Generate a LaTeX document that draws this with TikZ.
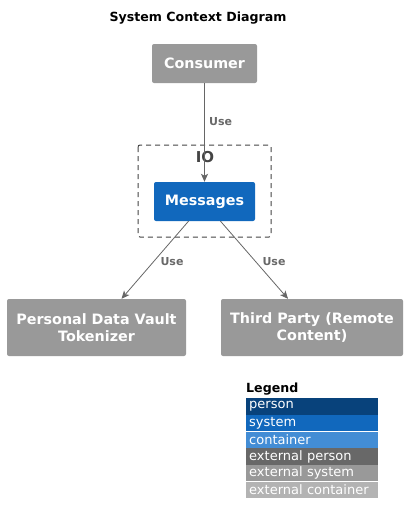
\documentclass[tikz,border=0pt]{standalone}
\usepackage{fontspec}
\setmainfont{DejaVu Sans}
\usetikzlibrary{arrows.meta}
\definecolor{extsys}{HTML}{999999}
\definecolor{sysblue}{HTML}{1168BD}
\definecolor{persblue}{HTML}{08427B}
\definecolor{contblue}{HTML}{438DD5}
\definecolor{extpers}{HTML}{686868}
\definecolor{extcont}{HTML}{B3B3B3}
\definecolor{linegray}{HTML}{666666}
\definecolor{bordergray}{HTML}{444444}
\tikzset{
  elem/.style={rounded corners=2pt, text=white, font=\bfseries\fontsize{14.3}{17}\selectfont, align=center, inner sep=0pt},
  rel/.style={draw=linegray, line width=0.8pt, -{Stealth[length=8pt,width=7pt,inset=2pt]}},
  rellabel/.style={text=extpers, font=\bfseries\fontsize{11}{13}\selectfont},
  legrow/.style={minimum width=132pt, minimum height=16.3pt, inner sep=0pt, anchor=north west, text=white, font=\fontsize{13}{15}\selectfont, text width=130pt, align=left}
}
\begin{document}
\begin{tikzpicture}[x=1pt,y=-1pt]
\useasboundingbox (0,0) rectangle (409,522);
\node[font=\bfseries\fontsize{12.6}{15}\selectfont] (title) at (198,18) {System Context Diagram};
% boundary
\draw[draw=bordergray, line width=1pt, dash pattern=on 5pt off 4pt, rounded corners=2pt] (138,145) rectangle (271,237);
\node[font=\bfseries\fontsize{15}{18}\selectfont, text=bordergray] (io) at (205,157) {IO};
\node[elem, fill=extsys, minimum width=105pt, minimum height=39pt] (consumer) at (204.5,63.5) {Consumer};
\node[elem, fill=sysblue, minimum width=101pt, minimum height=39pt] (messages) at (204.5,201.5) {Messages};
\node[elem, fill=extsys, minimum width=179pt, minimum height=57pt] (pdv) at (96.5,327.5) {Personal Data Vault\\Tokenizer};
\node[elem, fill=extsys, minimum width=182pt, minimum height=57pt] (tp) at (312,327.5) {Third Party (Remote\\Content)};
\draw[rel] (consumer.south) -- (messages.north) node[rellabel, pos=0.39, right=1pt] {Use};
\coordinate (m1) at ([xshift=-16pt]messages.south);
\coordinate (m2) at ([xshift=16pt]messages.south);
\coordinate (p1) at ([xshift=25pt]pdv.north);
\coordinate (t1) at ([xshift=-24pt]tp.north);
\draw[rel] (m1) -- (p1);
\draw[rel] (m2) -- (t1);
\node[rellabel] (u2) at (172,262) {Use};
\node[rellabel] (u3) at (274,262) {Use};
% legend
\node[anchor=south west, inner sep=0pt, font=\bfseries\fontsize{12.6}{15}\selectfont] (legend) at (246,395) {Legend};
\node[legrow, fill=persblue] (l1) at (246,398) {\hspace*{2pt}person};
\node[legrow, fill=sysblue] (l2) at (l1.south west) {\hspace*{2pt}system};
\node[legrow, fill=contblue] (l3) at (l2.south west) {\hspace*{2pt}container};
\node[legrow, fill=extpers] (l4) at (l3.south west) {\hspace*{2pt}external person};
\node[legrow, fill=extsys] (l5) at (l4.south west) {\hspace*{2pt}external system};
\node[legrow, fill=extcont] (l6) at (l5.south west) {\hspace*{2pt}external container};
\end{tikzpicture}
\end{document}
